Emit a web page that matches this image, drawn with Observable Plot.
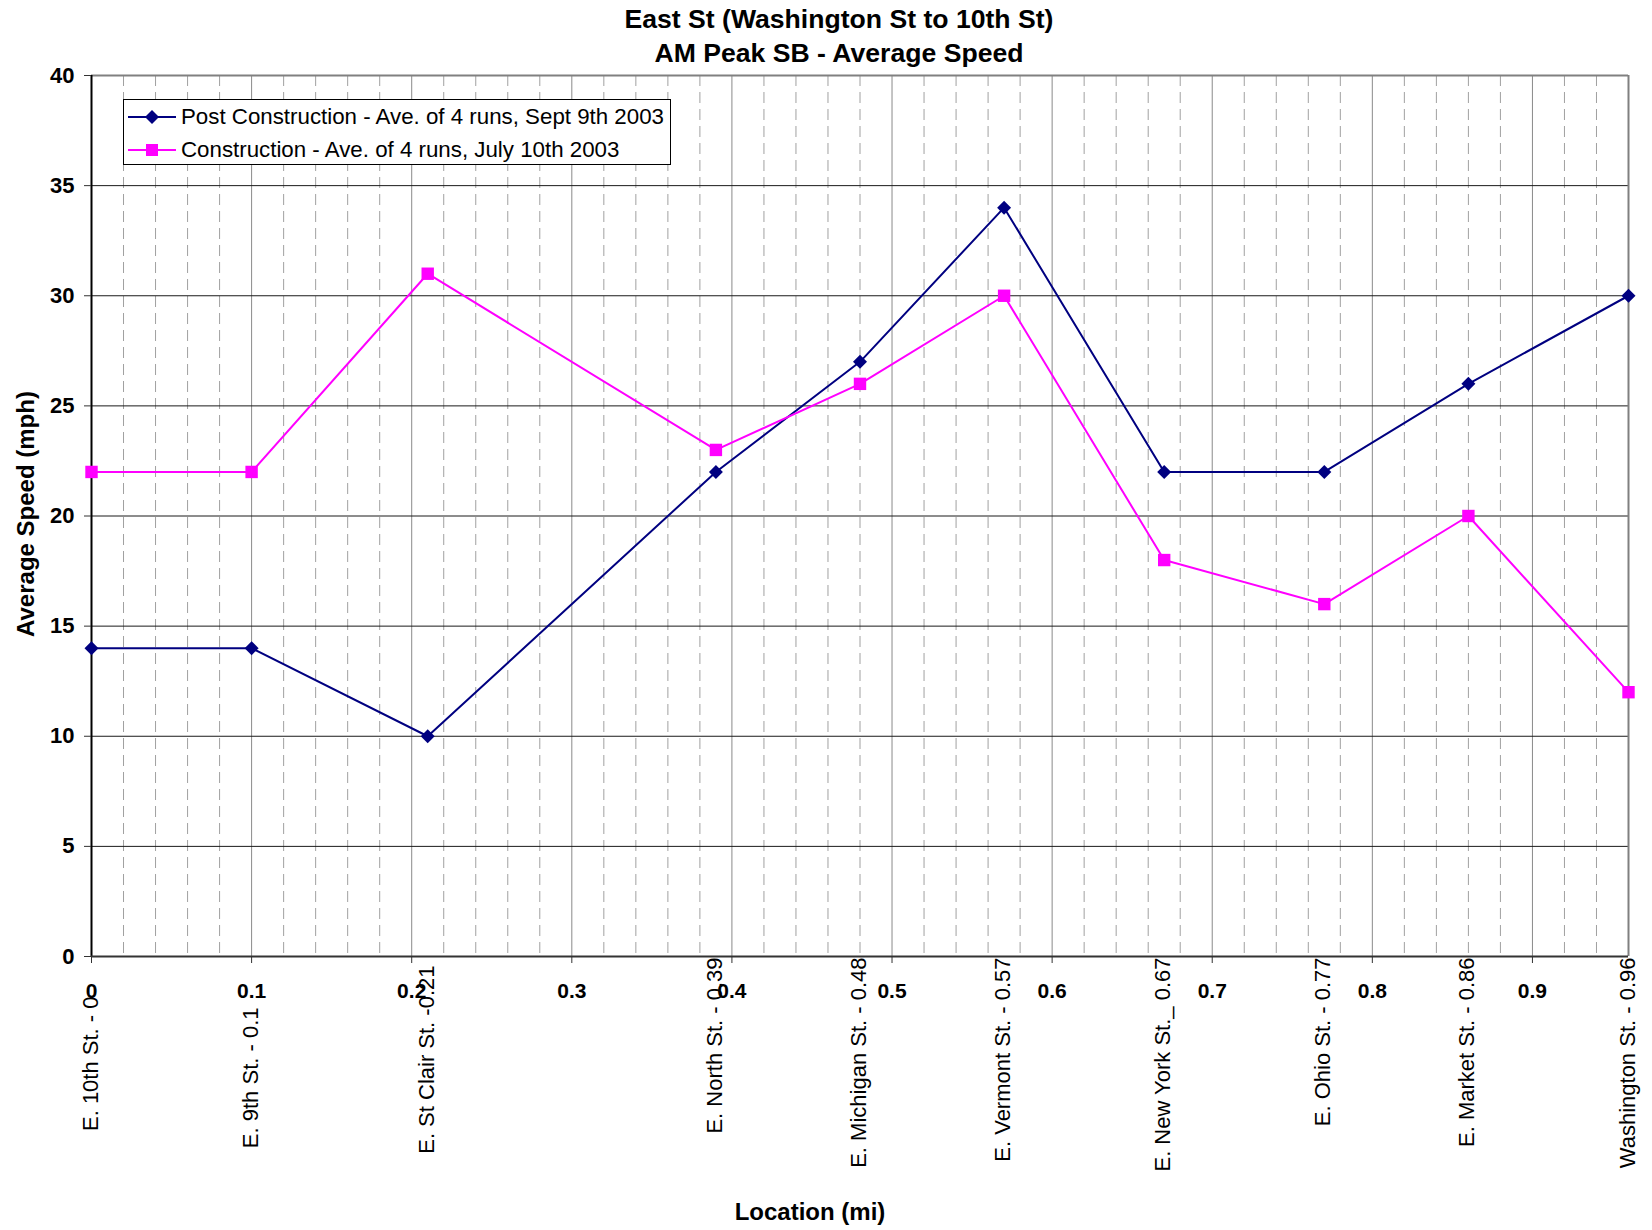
<!DOCTYPE html>
<html>
<head>
<meta charset="utf-8">
<script src="https://cdn.jsdelivr.net/npm/d3@7"></script>
<script src="https://cdn.jsdelivr.net/npm/@observablehq/plot@0.6"></script>
<style>
  body { margin: 0; background: #fff; font-family: "Liberation Sans", Arial, sans-serif; }
  #wrap { position: relative; width: 1652px; height: 1230px; overflow: hidden; }
  .title { position: absolute; left: 0; width: 1678px; text-align: center; font-weight: bold; font-size: 26.6px; line-height: 1; color: #000; }
  .axtitle { position: absolute; font-weight: bold; font-size: 24px; line-height: 1; color: #000; white-space: nowrap; }
  #legend { position: absolute; left: 123px; top: 99px; width: 546px; height: 64px; border: 1px solid #000; background: #fff; }
  .lrow { position: absolute; left: 0; height: 30px; display: flex; align-items: center; font-size: 22.3px; white-space: nowrap; }
  .lrow svg { margin-left: 4px; margin-right: 5px; }
</style>
</head>
<body>
<div id="wrap">
  <div class="title" id="t1" style="top:6px"></div>
  <div class="title" id="t2" style="top:40px"></div>
  <div id="chart"></div>
  <div class="axtitle" id="xt" style="left:810px; top:1212px; transform: translate(-50%,-50%);"></div>
  <div class="axtitle" id="yt" style="left:26px; top:514px; transform: translate(-50%,-50%) rotate(-90deg);"></div>
  <div id="legend"></div>
</div>
<script>
const titleLines = ["East St (Washington St to 10th St)", "AM Peak SB - Average Speed"];
const xAxisTitle = "Location (mi)";
const yAxisTitle = "Average Speed (mph)";

const locations = [0, 0.1, 0.21, 0.39, 0.48, 0.57, 0.67, 0.77, 0.86, 0.96];
const stationLabels = [
  "E. 10th St. - 0",
  "E. 9th St. - 0.1",
  "E. St Clair St. -0.21",
  "E. North St. - 0.39",
  "E. Michigan St. - 0.48",
  "E. Vermont St. - 0.57",
  "E. New York St._ 0.67",
  "E. Ohio St. - 0.77",
  "E. Market St. - 0.86",
  "Washington St. - 0.96"
];
const postSpeed = [14, 14, 10, 22, 27, 34, 22, 22, 26, 30];
const constructionSpeed = [22, 22, 31, 23, 26, 30, 18, 16, 20, 12];
const seriesNames = [
  "Post Construction - Ave. of 4 runs, Sept 9th 2003",
  "Construction - Ave. of 4 runs, July 10th 2003"
];
const seriesColors = ["#000080", "#FF00FF"];
const xTicks = [0, 0.1, 0.2, 0.3, 0.4, 0.5, 0.6, 0.7, 0.8, 0.9];
const xMinorGrid = [0.02,0.04,0.06,0.08,0.12,0.14,0.16,0.18,0.22,0.24,0.26,0.28,0.32,0.34,0.36,0.38,0.42,0.44,0.46,0.48,0.52,0.54,0.56,0.58,0.62,0.64,0.66,0.68,0.72,0.74,0.76,0.78,0.82,0.84,0.86,0.88,0.92,0.94];
const yTicks = [0, 5, 10, 15, 20, 25, 30, 35, 40];

document.getElementById("t1").textContent = titleLines[0];
document.getElementById("t2").textContent = titleLines[1];
document.getElementById("xt").textContent = xAxisTitle;
document.getElementById("yt").textContent = yAxisTitle;

const post = locations.map((x, i) => ({x, y: postSpeed[i]}));
const cons = locations.map((x, i) => ({x, y: constructionSpeed[i]}));
const stations = locations.map((x, i) => ({x, label: stationLabels[i], i}));

const labelStyle = { x: "x", text: "label", frameAnchor: "bottom", rotate: -90, textAnchor: "end", dx: 6, fontSize: 22, fill: "#000" };

const chart = Plot.plot({
  width: 1652,
  height: 1230,
  marginLeft: 91,
  marginRight: 24,
  marginTop: 75,
  marginBottom: 274,
  style: { fontFamily: "'Liberation Sans', Arial, sans-serif", background: "#fff", color: "#000" },
  x: { domain: [0, 0.96] },
  y: { domain: [0, 40] },
  marks: [
    Plot.ruleX(xMinorGrid, { stroke: "#a0a0a0", strokeWidth: 1, strokeDasharray: "11,6" }),
    Plot.ruleX(xTicks.filter(d => d > 0), { stroke: "#8a8a8a", strokeWidth: 1 }),
    Plot.ruleY(yTicks.filter(d => d > 0 && d < 40), { stroke: "#1a1a1a", strokeWidth: 1 }),
    Plot.ruleY([40], { stroke: "#808080", strokeWidth: 2 }),
    Plot.ruleX([0.96], { stroke: "#808080", strokeWidth: 2 }),
    Plot.ruleX([0], { stroke: "#000", strokeWidth: 2 }),
    Plot.ruleY([0], { stroke: "#333", strokeWidth: 2 }),
    Plot.axisX({ ticks: xTicks, tickFormat: d => String(d), tickSize: 7, tickPadding: 20, fontSize: 21, fontWeight: "bold", label: null, stroke: "#333" }),
    Plot.axisY({ ticks: yTicks, tickSize: 7, tickPadding: 10, fontSize: 22, fontWeight: "bold", label: null, stroke: "#333" }),
    Plot.text(stations.filter(d => d.i === 0), { ...labelStyle, dy: 40 }),
    Plot.text(stations.filter(d => d.i === 1), { ...labelStyle, dy: 51 }),
    Plot.text(stations.filter(d => d.i === 2), { ...labelStyle, dy: 9 }),
    Plot.text(stations.filter(d => d.i > 2), { ...labelStyle, dy: 1 }),
    Plot.line(post, { x: "x", y: "y", stroke: seriesColors[0], strokeWidth: 2 }),
    Plot.dot(post, { x: "x", y: "y", symbol: "diamond2", r: 6.3, fill: seriesColors[0], stroke: "none" }),
    Plot.line(cons, { x: "x", y: "y", stroke: seriesColors[1], strokeWidth: 2 }),
    Plot.dot(cons, { x: "x", y: "y", symbol: "square", r: 7, fill: seriesColors[1], stroke: "none" })
  ]
});
document.getElementById("chart").appendChild(chart);

// Legend
const legend = document.getElementById("legend");
const symbols = ["diamond", "square"];
seriesNames.forEach((name, i) => {
  const row = document.createElement("div");
  row.className = "lrow";
  row.style.top = (i === 0 ? 2 : 35) + "px";
  const ns = "http://www.w3.org/2000/svg";
  const svg = document.createElementNS(ns, "svg");
  svg.setAttribute("width", 48);
  svg.setAttribute("height", 20);
  const ln = document.createElementNS(ns, "line");
  ln.setAttribute("x1", 0); ln.setAttribute("x2", 48);
  ln.setAttribute("y1", 10); ln.setAttribute("y2", 10);
  ln.setAttribute("stroke", seriesColors[i]); ln.setAttribute("stroke-width", 2);
  svg.appendChild(ln);
  const mk = document.createElementNS(ns, "path");
  if (symbols[i] === "diamond") mk.setAttribute("d", "M24,3L31,10L24,17L17,10Z");
  else mk.setAttribute("d", "M18,4H30V16H18Z");
  mk.setAttribute("fill", seriesColors[i]);
  svg.appendChild(mk);
  row.appendChild(svg);
  const span = document.createElement("span");
  span.textContent = name;
  row.appendChild(span);
  legend.appendChild(row);
});
</script>
</body>
</html>
